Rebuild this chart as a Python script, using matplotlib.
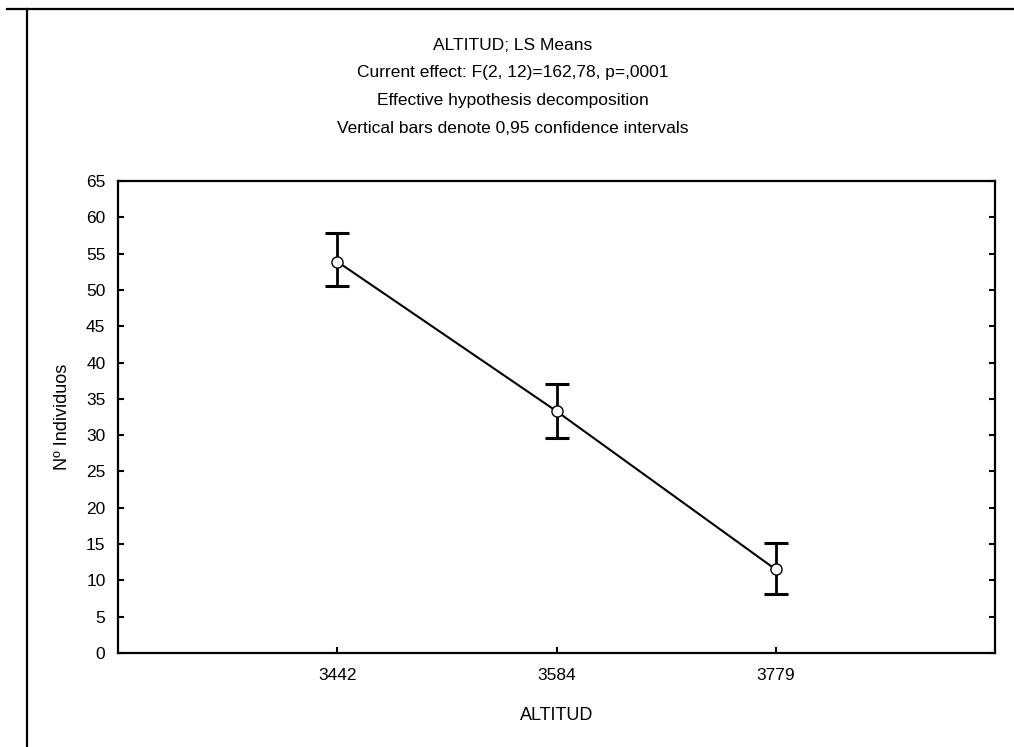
import numpy as np
import matplotlib
matplotlib.use("Agg")
import matplotlib.pyplot as plt
from matplotlib.lines import Line2D

plt.rcParams['font.family'] = ['Liberation Sans', 'DejaVu Sans']

# values
altitudes = ['3442', '3584', '3779']
means = [53.9, 33.3, 11.5]
ci_low = [50.5, 29.6, 8.1]
ci_high = [57.9, 37.0, 15.2]
yticks = list(range(0, 70, 5))

title_lines = [
    'ALTITUD; LS Means',
    'Current effect: F(2, 12)=162,78, p=,0001',
    'Effective hypothesis decomposition',
    'Vertical bars denote 0,95 confidence intervals',
]

W, H = 1014, 747
fig = plt.figure(figsize=(W / 100, H / 100), dpi=100)
ax = fig.add_axes([118 / W, 1 - 653 / H, (995 - 118) / W, (653 - 181) / H])

x = np.arange(len(altitudes))
m = np.array(means)
err = [m - np.array(ci_low), np.array(ci_high) - m]

ax.plot(x, m, color='black', lw=1.5, zorder=2)
ax.errorbar(x, m, yerr=err, fmt='none', ecolor='black', elinewidth=2.0,
            capsize=8.5, capthick=2.2, zorder=3)
ax.plot(x, m, 'o', ms=8, mfc='white', mec='black', mew=1.0, zorder=4)

ax.set_xlim(-1, 3)
ax.set_ylim(0, 65)
ax.set_xticks(x)
ax.set_xticklabels(altitudes)
ax.set_yticks(yticks)
ax.tick_params(direction='in', length=4, width=1.5, labelsize=12.5,
               right=True, top=False)
ax.tick_params(axis='x', pad=11)
ax.tick_params(axis='y', pad=9)
for s in ax.spines.values():
    s.set_linewidth(1.6)

ax.set_xlabel('ALTITUD', fontsize=13, labelpad=17)
ax.set_ylabel('Nº Individuos', fontsize=13, labelpad=11)

for i, line in enumerate(title_lines):
    fig.text(513 / W, 1 - (45 + i * 27.7) / H, line, ha='center', va='center',
             fontsize=12.5)

# page frame lines
fig.add_artist(Line2D([7 / W, 1.0], [1 - 9 / H, 1 - 9 / H], color='black',
                      lw=1.6, transform=fig.transFigure))
fig.add_artist(Line2D([27 / W, 27 / W], [0, 1 - 9 / H], color='black',
                      lw=1.6, transform=fig.transFigure))

fig.savefig('out.png', dpi=100)
